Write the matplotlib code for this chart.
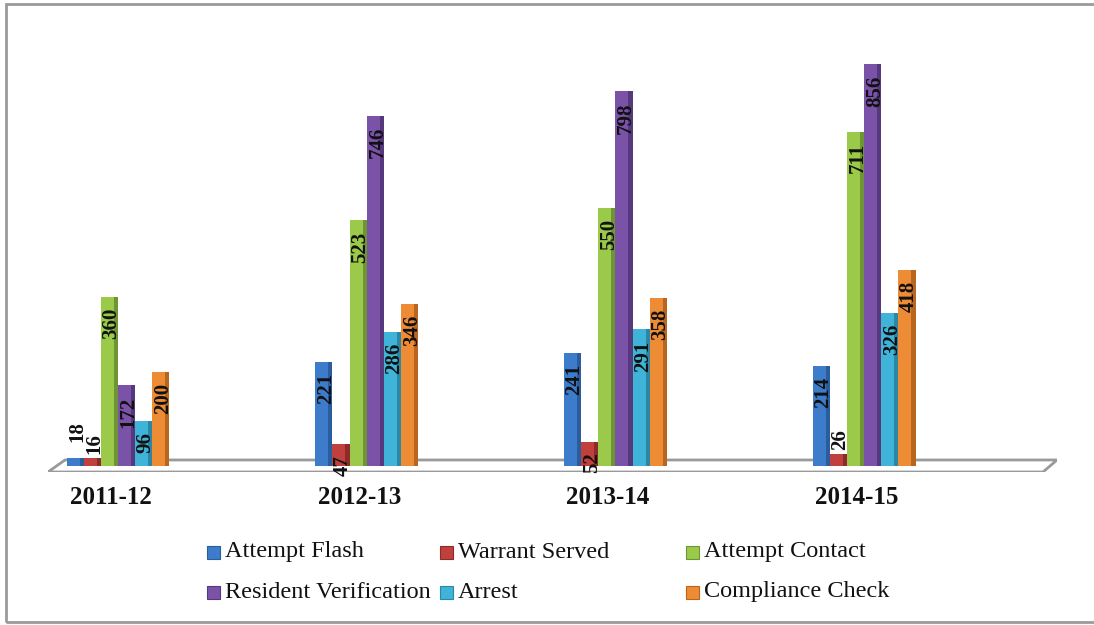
import matplotlib
matplotlib.use("Agg")
import matplotlib.pyplot as plt
from matplotlib.patches import Polygon, Rectangle
import numpy as np

# Data
years = ["2011-12", "2012-13", "2013-14", "2014-15"]
series_names = ["Attempt Flash", "Warrant Served", "Attempt Contact",
                "Resident Verification", "Arrest", "Compliance Check"]
attempt_flash = [18, 221, 241, 214]
warrant_served = [16, 47, 52, 26]
attempt_contact = [360, 523, 550, 711]
resident_verification = [172, 746, 798, 856]
arrest = [96, 286, 291, 326]
compliance_check = [200, 346, 358, 418]
series_values = [attempt_flash, warrant_served, attempt_contact,
                 resident_verification, arrest, compliance_check]

# Styling
front_colors = ["#3D7CCB", "#C0403E", "#9BC94A", "#7A52A8", "#3FB4D8", "#EE8B35"]
side_colors = ["#2A5C9E", "#8E2B2A", "#6F9433", "#56397C", "#2A87A6", "#B8661F"]
serif = ["Liberation Serif", "DejaVu Serif"]

W, H = 1094, 625
fig = plt.figure(figsize=(W / 100, H / 100), dpi=100)

# pixel helpers for layout
def fx(px):
    return px / W

def fy(py):
    return 1 - py / H

ax = fig.add_axes([fx(48), fy(472), fx(1057) - fx(48), fy(40) - fy(472)])
ax.set_xlim(-0.2815, 3.7756)
ax.set_ylim(-12.8, 907.2)
ax.axis("off")

# Floor of the 3D chart
floor = Polygon([(-0.2815, -12.8), (-0.2131, 12.8), (3.7756, 12.8), (3.7193, -12.8)],
                closed=True, facecolor="white", edgecolor="#9a9a9a", linewidth=2, zorder=1)
ax.add_patch(floor)

x = np.arange(len(years))
w = 0.069
for i, (name, vals) in enumerate(zip(series_names, series_values)):
    pos = x + (i - 2.5) * w
    ax.bar(pos, vals, width=w, color=front_colors[i], edgecolor="none", zorder=3)
    # darker side strip for a 3D look
    ax.bar(pos + w * 0.38, vals, width=w * 0.24, color=side_colors[i], edgecolor="none", zorder=3)
    for xp, v in zip(pos, vals):
        if v >= 30:
            ax.annotate(str(v), (xp, v), xytext=(1.5, -8), textcoords="offset points",
                        rotation=90, ha="center", va="top", fontsize=15, fontweight="bold",
                        family=serif, color="#111111", zorder=5)
        else:
            ax.annotate(str(v), (xp, v), xytext=(1.5, 3 + 8 * (i == 0)), textcoords="offset points",
                        rotation=90, ha="center", va="bottom", fontsize=15, fontweight="bold",
                        family=serif, color="#111111", zorder=5)

# Category labels
for xi, label in zip(x, years):
    ax.text(xi - 0.03, -42, label, ha="center", va="top", fontsize=18,
            fontweight="bold", family=serif, color="#111111")

# Legend (Excel-like, 3 columns by 2 rows)
legend_x = [207, 440, 686]
legend_y = [552, 592]
for i, name in enumerate(series_names):
    px = legend_x[i % 3]
    py = legend_y[i // 3]
    fig.patches.append(Rectangle((fx(px), fy(py + 7)), fx(13), 13 / H,
                                 transform=fig.transFigure, facecolor=front_colors[i],
                                 edgecolor=side_colors[i], linewidth=0.8))
    fig.text(fx(px + 18), fy(py), name, ha="left", va="center", fontsize=17.5,
             family=serif, color="#111111")

# Outer border
fig.patches.append(Rectangle((fx(6), fy(622)), fx(1200), fy(4) - fy(622),
                             transform=fig.transFigure, facecolor="none",
                             edgecolor="#9a9a9a", linewidth=2))

fig.savefig("out.png", dpi=100)
